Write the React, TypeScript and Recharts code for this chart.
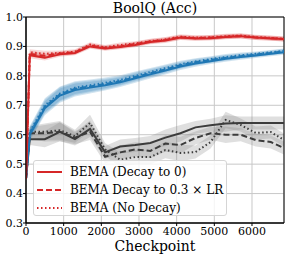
import React from 'react';
import {
  ComposedChart,
  Line,
  Area,
  XAxis,
  YAxis,
  CartesianGrid,
  ReferenceArea,
} from 'recharts';

const checkpoints = [0, 100, 500, 900, 1300, 1700, 2100, 2500, 2900, 3300, 3700, 4100, 4500, 4900, 5300, 5700, 6100, 6500, 6850];

const redSolid = [0.45, 0.87, 0.862, 0.873, 0.878, 0.9, 0.893, 0.898, 0.905, 0.915, 0.92, 0.93, 0.927, 0.928, 0.932, 0.935, 0.93, 0.927, 0.925];
const redDashed = [0.45, 0.875, 0.868, 0.876, 0.88, 0.903, 0.895, 0.9, 0.908, 0.917, 0.922, 0.931, 0.928, 0.93, 0.933, 0.935, 0.93, 0.928, 0.925];
const redDotted = [0.45, 0.88, 0.875, 0.878, 0.882, 0.906, 0.897, 0.905, 0.91, 0.918, 0.924, 0.933, 0.93, 0.931, 0.935, 0.937, 0.932, 0.929, 0.926];
const redSpread = [0, 0.01, 0.01, 0.008, 0.008, 0.008, 0.008, 0.008, 0.008, 0.008, 0.008, 0.008, 0.008, 0.008, 0.008, 0.008, 0.008, 0.008, 0.008];

const blueSolid = [0.45, 0.6, 0.69, 0.733, 0.752, 0.76, 0.768, 0.778, 0.792, 0.805, 0.818, 0.832, 0.842, 0.85, 0.858, 0.864, 0.869, 0.875, 0.88];
const blueDashed = [0.45, 0.605, 0.695, 0.737, 0.756, 0.764, 0.772, 0.782, 0.796, 0.809, 0.822, 0.836, 0.846, 0.854, 0.861, 0.867, 0.872, 0.878, 0.883];
const blueDotted = [0.45, 0.61, 0.7, 0.74, 0.76, 0.768, 0.776, 0.786, 0.8, 0.813, 0.826, 0.839, 0.849, 0.857, 0.864, 0.87, 0.875, 0.88, 0.885];
const blueSpread = [0, 0.02, 0.024, 0.024, 0.022, 0.02, 0.018, 0.016, 0.015, 0.014, 0.013, 0.012, 0.011, 0.01, 0.01, 0.009, 0.008, 0.008, 0.008];

const graySolid = [0.45, 0.585, 0.585, 0.61, 0.585, 0.62, 0.54, 0.56, 0.565, 0.572, 0.59, 0.605, 0.625, 0.632, 0.638, 0.64, 0.64, 0.64, 0.64];
const grayDashed = [0.45, 0.605, 0.605, 0.61, 0.59, 0.61, 0.525, 0.54, 0.55, 0.545, 0.57, 0.565, 0.589, 0.605, 0.6, 0.6, 0.582, 0.575, 0.555];
const grayDotted = [0.45, 0.61, 0.61, 0.615, 0.595, 0.64, 0.55, 0.515, 0.524, 0.524, 0.548, 0.538, 0.541, 0.575, 0.65, 0.633, 0.606, 0.609, 0.582];
const graySpread = [0, 0.02, 0.028, 0.032, 0.022, 0.028, 0.022, 0.024, 0.024, 0.024, 0.028, 0.028, 0.022, 0.022, 0.028, 0.022, 0.022, 0.022, 0.022];

const yTicks = [0.3, 0.4, 0.5, 0.6, 0.7, 0.8, 0.9, 1.0];
const xTicks = [0, 1000, 2000, 3000, 4000, 5000, 6000];

const legendItems = [
  { label: 'BEMA (Decay to 0)', dash: undefined },
  { label: 'BEMA Decay to 0.3 \u00d7 LR', dash: '6 3' },
  { label: 'BEMA (No Decay)', dash: '1.5 2.5' },
];

const RED = '#d62728';
const BLUE = '#1f77b4';
const GRAY = '#3c3c3c';
const FONT = '"DejaVu Serif", serif';

type SeriesDef = { key: string; values: number[]; spread: number[]; color: string; band: string; opacity: number; dash?: string; width: number };

const series: SeriesDef[] = [
  { key: 'gS', values: graySolid, spread: graySpread, color: GRAY, band: '#808080', opacity: 0.25, width: 2 },
  { key: 'gD', values: grayDashed, spread: graySpread, color: GRAY, band: '#808080', opacity: 0.25, dash: '6 3', width: 2 },
  { key: 'gO', values: grayDotted, spread: graySpread, color: GRAY, band: '#808080', opacity: 0.25, dash: '1.5 2.5', width: 2 },
  { key: 'bS', values: blueSolid, spread: blueSpread, color: BLUE, band: BLUE, opacity: 0.2, width: 2 },
  { key: 'bD', values: blueDashed, spread: blueSpread, color: BLUE, band: BLUE, opacity: 0.2, dash: '6 3', width: 2 },
  { key: 'bO', values: blueDotted, spread: blueSpread, color: BLUE, band: BLUE, opacity: 0.2, dash: '1.5 2.5', width: 2 },
  { key: 'rS', values: redSolid, spread: redSpread, color: RED, band: RED, opacity: 0.18, width: 2 },
  { key: 'rD', values: redDashed, spread: redSpread, color: RED, band: RED, opacity: 0.18, dash: '6 3', width: 2 },
  { key: 'rO', values: redDotted, spread: redSpread, color: RED, band: RED, opacity: 0.18, dash: '1.5 2.5', width: 2 },
];

const data = checkpoints.map((c, i) => {
  const row: Record<string, number | number[]> = { c };
  series.forEach((s) => {
    row[s.key] = s.values[i];
    row[s.key + 'Band'] = [s.values[i] - s.spread[i], s.values[i] + s.spread[i]];
  });
  return row;
});

export default function App() {
  return (
    <div style={{ position: 'absolute', left: 0, top: 0, width: 289, height: 258, background: '#fff', fontFamily: FONT }}>
      <ComposedChart width={289} height={258} data={data} margin={{ top: 17, right: 5, bottom: 0, left: 0 }}>
        <CartesianGrid stroke="#c8c8c8" strokeWidth={1} />
        <XAxis
          dataKey="c"
          type="number"
          domain={[0, 6850]}
          ticks={xTicks}
          height={35}
          tickSize={3}
          tickMargin={1}
          stroke="#000"
          tick={{ fill: '#000', fontSize: 11, fontFamily: FONT }}
          allowDataOverflow
        />
        <YAxis
          type="number"
          domain={[0.3, 1.0]}
          ticks={yTicks}
          width={26}
          tickSize={3}
          tickMargin={0}
          stroke="#000"
          tickFormatter={(v: number) => v.toFixed(1)}
          tick={{ fill: '#000', fontSize: 11, fontFamily: FONT }}
          allowDataOverflow
        />
        {series.map((s) => (
          <Area
            key={s.key + 'Band'}
            dataKey={s.key + 'Band'}
            type="linear"
            stroke="none"
            fill={s.band}
            fillOpacity={s.opacity}
            isAnimationActive={false}
            activeDot={false}
          />
        ))}
        {series.map((s) => (
          <Line
            key={s.key}
            dataKey={s.key}
            type="linear"
            stroke={s.color}
            strokeWidth={s.width}
            strokeDasharray={s.dash}
            dot={false}
            activeDot={false}
            isAnimationActive={false}
          />
        ))}
        <ReferenceArea x1={0} x2={6850} y1={0.3} y2={1.0} fill="none" stroke="#000" strokeWidth={1} strokeOpacity={1} />
      </ComposedChart>
      <div style={{ position: 'absolute', left: 26, width: 258, top: 0, textAlign: 'center', fontSize: 14, lineHeight: '17px', color: '#000' }}>
        BoolQ (Acc)
      </div>
      <div style={{ position: 'absolute', left: 26, width: 258, top: 237, textAlign: 'center', fontSize: 14, lineHeight: '18px', color: '#000' }}>
        Checkpoint
      </div>
      <div
        style={{
          position: 'absolute',
          left: 33,
          top: 160,
          width: 194,
          height: 56,
          background: 'rgba(255,255,255,0.8)',
          border: '1px solid #d5d5d5',
          borderRadius: 3,
          boxSizing: 'border-box',
          paddingTop: 2,
        }}
      >
        {legendItems.map((it) => (
          <div key={it.label} style={{ display: 'flex', alignItems: 'center', height: 18 }}>
            <svg width={36} height={18} style={{ flex: 'none' }}>
              <line x1={3} x2={28} y1={9} y2={9} stroke={RED} strokeWidth={2} strokeDasharray={it.dash} />
            </svg>
            <span style={{ fontSize: 12, whiteSpace: 'nowrap', color: '#000' }}>{it.label}</span>
          </div>
        ))}
      </div>
    </div>
  );
}
